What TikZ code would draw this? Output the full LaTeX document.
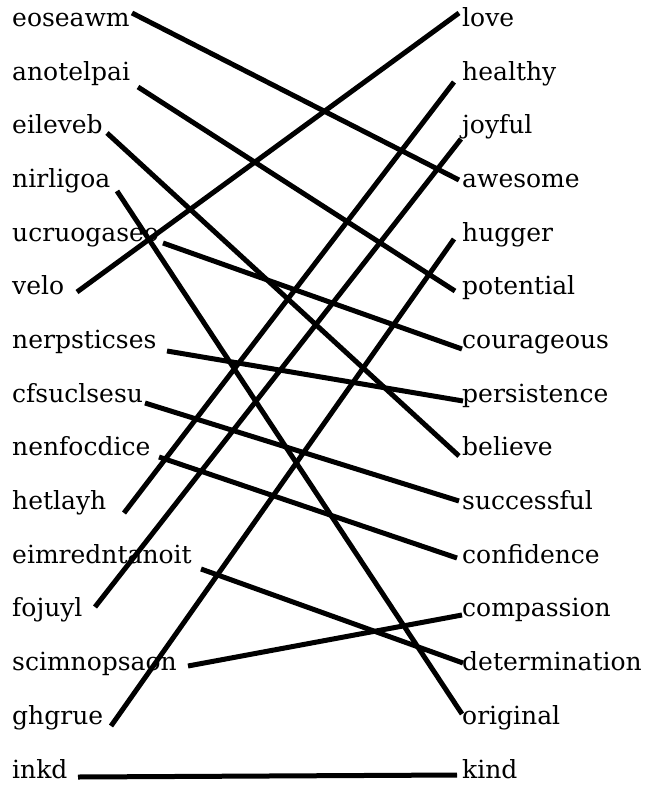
\documentclass[tikz,border=0pt]{standalone}
\usepackage{fontspec}
\setmainfont{DejaVu Serif}
\begin{document}
\begin{tikzpicture}[x=1pt,y=-1pt,
  word/.style={anchor=base west, inner sep=0pt, font=\fontsize{25}{30}\selectfont},
  link/.style={line width=5pt, line cap=butt}]
\useasboundingbox (0,0) rectangle (649,786);
\foreach \w [count=\i from 0] in {eoseawm,anotelpai,eileveb,nirligoa,ucruogaseo,velo,nerpsticses,cfsuclsesu,nenfocdice,hetlayh,eimredntanoit,fojuyl,scimnopsaon,ghgrue,inkd}
  \node[word] (l\i) at (12,26.5+53.68*\i) {\w};
\foreach \w [count=\i from 0] in {love,healthy,joyful,awesome,hugger,potential,courageous,persistence,believe,successful,confidence,compassion,determination,original,kind}
  \node[word] (r\i) at (462,26.5+53.68*\i) {\w};
% connector end points
\coordinate (a0) at (132,13);  \coordinate (b3) at (459,180);
\coordinate (a1) at (138,87);  \coordinate (b5) at (455,291);
\coordinate (a2) at (107,133); \coordinate (b8) at (459,456);
\coordinate (a3) at (117,191); \coordinate (b13) at (462,714);
\coordinate (a4) at (163,243); \coordinate (b6) at (462,349);
\coordinate (a5) at (77,292);  \coordinate (b0) at (459,13);
\coordinate (a6) at (167,351); \coordinate (b7) at (463,401);
\coordinate (a7) at (145,403); \coordinate (b9) at (459,501);
\coordinate (a8) at (159,457); \coordinate (b10) at (457,558);
\coordinate (a9) at (124,513); \coordinate (b1) at (454,82);
\coordinate (a10) at (201,569); \coordinate (b12) at (463,663);
\coordinate (a11) at (95,607);  \coordinate (b2) at (461,139);
\coordinate (a12) at (188,666); \coordinate (b11) at (462,615);
\coordinate (a13) at (111,726); \coordinate (b4) at (454,239);
\coordinate (a14) at (78,777);  \coordinate (b14) at (457,775);
\draw[link] (a0) -- (b3);
\draw[link] (a1) -- (b5);
\draw[link] (a2) -- (b8);
\draw[link] (a3) -- (b13);
\draw[link] (a4) -- (b6);
\draw[link] (a5) -- (b0);
\draw[link] (a6) -- (b7);
\draw[link] (a7) -- (b9);
\draw[link] (a8) -- (b10);
\draw[link] (a9) -- (b1);
\draw[link] (a10) -- (b12);
\draw[link] (a11) -- (b2);
\draw[link] (a12) -- (b11);
\draw[link] (a13) -- (b4);
\draw[link] (a14) -- (b14);
\end{tikzpicture}
\end{document}
